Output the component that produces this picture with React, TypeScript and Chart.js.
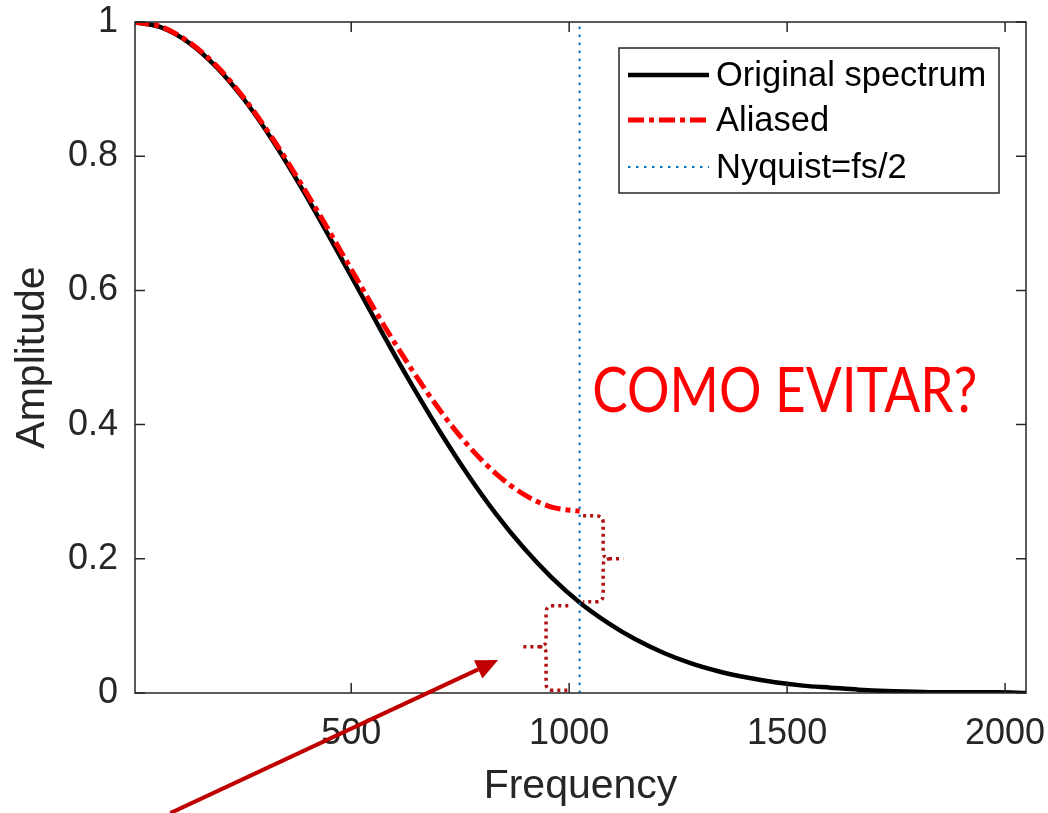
import React, { useEffect, useRef } from 'react';
import { Chart, registerables } from 'chart.js';

Chart.register(...registerables);

// ---- data ----
const frequencies = [
  0, 64, 128, 192, 256, 320, 384, 448, 512, 576, 640, 704, 768, 832, 896, 960, 1024,
  1088, 1152, 1216, 1280, 1344, 1408, 1472, 1536, 1600, 1664, 1728, 1792, 1856, 1920, 1984, 2048,
];
const originalSpectrum = [
  1.0, 0.992, 0.969, 0.932, 0.883, 0.823, 0.755, 0.682, 0.607, 0.531, 0.458, 0.389, 0.325, 0.267, 0.216, 0.172, 0.135,
  0.105, 0.08, 0.06, 0.044, 0.032, 0.023, 0.016, 0.011, 0.008, 0.005, 0.003, 0.002, 0.001, 0.001, 0.001, 0.0,
];
const aliasedFrequencies = [0, 64, 128, 192, 256, 320, 384, 448, 512, 576, 640, 704, 768, 832, 896, 960, 1024];
const aliasedSpectrum = [
  1.0, 0.993, 0.97, 0.934, 0.885, 0.826, 0.76, 0.69, 0.618, 0.547, 0.481, 0.421, 0.369, 0.327, 0.296, 0.277, 0.271,
];
const nyquistFrequency = 1024;
const xTickValues = [500, 1000, 1500, 2000];
const yTickValues = [0, 0.2, 0.4, 0.6, 0.8, 1];
const seriesLabels = ['Original spectrum', 'Aliased', 'Nyquist=fs/2'];
const calloutText = 'COMO EVITAR?';
const xTitle = 'Frequency';
const yTitle = 'Amplitude';

const FONT = "'Liberation Sans', Arial, Helvetica, sans-serif";
const AXIS_COLOR = '#262626';
const BLACK = '#000000';
const RED = '#FF0000';
const BLUE = '#0072BD';
const DARK_RED = '#C00000';
const BRACE_RED = '#B01010';
const RED_DASH = [16, 5, 5, 5];
const BLUE_DOT = [2.5, 5.5];

export default function App() {
  const ref = useRef<HTMLCanvasElement>(null);

  useEffect(() => {
    const canvas = ref.current;
    if (!canvas) return;

    const decor = {
      id: 'matlabDecor',
      afterDatasetsDraw(chart: any) {
        const { ctx, chartArea: a, scales } = chart;
        const xs = scales.x;
        const ys = scales.y;
        const X = (v: number) => xs.getPixelForValue(v);
        const Y = (v: number) => ys.getPixelForValue(v);

        ctx.save();
        // axes box + inward ticks on all four sides
        ctx.strokeStyle = AXIS_COLOR;
        ctx.lineWidth = 1.5;
        ctx.setLineDash([]);
        ctx.strokeRect(a.left, a.top, a.right - a.left, a.bottom - a.top);
        const tl = 10;
        ctx.beginPath();
        xTickValues.forEach((v) => {
          const px = X(v);
          ctx.moveTo(px, a.bottom);
          ctx.lineTo(px, a.bottom - tl);
          ctx.moveTo(px, a.top);
          ctx.lineTo(px, a.top + tl);
        });
        yTickValues.forEach((v) => {
          const py = Y(v);
          ctx.moveTo(a.left, py);
          ctx.lineTo(a.left + tl, py);
          ctx.moveTo(a.right, py);
          ctx.lineTo(a.right - tl, py);
        });
        ctx.stroke();

        // legend
        const lw = 380;
        const lh = 145;
        const lx = a.right - 27 - lw;
        const ly = a.top + 26;
        ctx.fillStyle = '#FFFFFF';
        ctx.fillRect(lx, ly, lw, lh);
        ctx.strokeStyle = AXIS_COLOR;
        ctx.lineWidth = 1.5;
        ctx.strokeRect(lx, ly, lw, lh);
        const rows = [ly + 27, ly + 72, ly + 119];
        const styles = [
          { c: BLACK, w: 4.5, d: [] as number[] },
          { c: RED, w: 5, d: RED_DASH },
          { c: BLUE, w: 2, d: BLUE_DOT },
        ];
        ctx.font = `34.5px ${FONT}`;
        ctx.textBaseline = 'middle';
        ctx.textAlign = 'left';
        seriesLabels.forEach((lab, i) => {
          const s = styles[i];
          ctx.beginPath();
          ctx.strokeStyle = s.c;
          ctx.lineWidth = s.w;
          ctx.setLineDash(s.d);
          ctx.moveTo(lx + 9, rows[i]);
          ctx.lineTo(lx + 90, rows[i]);
          ctx.stroke();
          ctx.setLineDash([]);
          ctx.fillStyle = BLACK;
          ctx.fillText(lab, lx + 97, rows[i] + 1);
        });

        // callout text
        ctx.fillStyle = RED;
        ctx.font = `62px Lato, 'Open Sans', sans-serif`;
        ctx.textBaseline = 'alphabetic';
        ctx.fillText(calloutText, X(1053), Y(0.419), 385);

        // braces (dotted, dark red)
        const brace = (x0: number, x1: number, x2: number, yT: number, yM: number, yB: number) => {
          const px0 = X(x0), px1 = X(x1), px2 = X(x2);
          const pt = Y(yT), pm = Y(yM), pb = Y(yB);
          const s = Math.sign(px1 - px0);
          const r = 7;
          ctx.beginPath();
          ctx.moveTo(px0, pt);
          ctx.lineTo(px1 - s * r, pt);
          ctx.quadraticCurveTo(px1, pt, px1, pt + r);
          ctx.lineTo(px1, pm - r);
          ctx.quadraticCurveTo(px1, pm, px1 + s * r, pm);
          ctx.lineTo(px2, pm);
          ctx.moveTo(px1 + s * r, pm);
          ctx.quadraticCurveTo(px1, pm, px1, pm + r);
          ctx.lineTo(px1, pb - r);
          ctx.quadraticCurveTo(px1, pb, px1 - s * r, pb);
          ctx.lineTo(px0, pb);
          ctx.stroke();
        };
        ctx.strokeStyle = BRACE_RED;
        ctx.lineWidth = 3.5;
        ctx.setLineDash([3, 4]);
        brace(1032, 1078, 1124, 0.264, 0.2, 0.136);
        brace(998, 947, 892, 0.13, 0.069, 0.004);
        ctx.setLineDash([]);

        // arrow
        const ax0 = X(85), ay0 = Y(-0.179);
        const ax1 = X(837), ay1 = Y(0.049);
        const ang = Math.atan2(ay1 - ay0, ax1 - ax0);
        const hl = 22, hw = 10;
        const bx = ax1 - hl * Math.cos(ang);
        const by = ay1 - hl * Math.sin(ang);
        ctx.strokeStyle = DARK_RED;
        ctx.fillStyle = DARK_RED;
        ctx.lineWidth = 4;
        ctx.beginPath();
        ctx.moveTo(ax0, ay0);
        ctx.lineTo(bx, by);
        ctx.stroke();
        ctx.beginPath();
        ctx.moveTo(ax1, ay1);
        ctx.lineTo(bx + hw * Math.sin(ang), by - hw * Math.cos(ang));
        ctx.lineTo(bx - hw * Math.sin(ang), by + hw * Math.cos(ang));
        ctx.closePath();
        ctx.fill();
        ctx.restore();
      },
    };

    const chart = new Chart(canvas, {
      type: 'line',
      data: {
        datasets: [
          {
            label: seriesLabels[0],
            data: frequencies.map((f, i) => ({ x: f, y: originalSpectrum[i] })),
            borderColor: BLACK,
            borderWidth: 4.5,
            pointRadius: 0,
            cubicInterpolationMode: 'monotone',
            fill: false,
            order: 3,
          },
          {
            label: seriesLabels[1],
            data: aliasedFrequencies.map((f, i) => ({ x: f, y: aliasedSpectrum[i] })),
            borderColor: RED,
            borderWidth: 5,
            borderDash: RED_DASH,
            pointRadius: 0,
            cubicInterpolationMode: 'monotone',
            fill: false,
            order: 2,
          },
          {
            label: seriesLabels[2],
            data: [
              { x: nyquistFrequency, y: 0 },
              { x: nyquistFrequency, y: 1 },
            ],
            borderColor: BLUE,
            borderWidth: 2,
            borderDash: BLUE_DOT,
            pointRadius: 0,
            fill: false,
            order: 1,
          },
        ],
      },
      options: {
        responsive: false,
        animation: false,
        devicePixelRatio: 1,
        layout: { padding: { left: 0, top: 22, right: 22, bottom: 0 } },
        elements: { line: { borderCapStyle: 'butt' } },
        plugins: { legend: { display: false }, tooltip: { enabled: false } },
        scales: {
          x: {
            type: 'linear',
            min: 4,
            max: 2048,
            afterBuildTicks: (s: any) => {
              s.ticks = xTickValues.map((v) => ({ value: v }));
            },
            afterFit: (s: any) => {
              s.height = 120;
              s.paddingLeft = 0;
              s.paddingRight = 0;
            },
            grid: { display: false, drawTicks: false },
            border: { display: false },
            ticks: {
              font: { family: FONT, size: 36 },
              color: AXIS_COLOR,
              padding: 19,
              maxRotation: 0,
              autoSkip: false,
              callback: (v: any) => String(v),
            },
            title: {
              display: true,
              text: xTitle,
              font: { family: FONT, size: 41 },
              color: AXIS_COLOR,
              padding: { top: 0, bottom: 2 },
            },
          },
          y: {
            type: 'linear',
            min: 0,
            max: 1,
            afterBuildTicks: (s: any) => {
              s.ticks = yTickValues.map((v) => ({ value: v }));
            },
            afterFit: (s: any) => {
              s.width = 135;
              s.paddingTop = 0;
              s.paddingBottom = 0;
            },
            grid: { display: false, drawTicks: false },
            border: { display: false },
            ticks: {
              font: { family: FONT, size: 36 },
              color: AXIS_COLOR,
              padding: 17,
              callback: (v: any) => String(v),
            },
            title: {
              display: true,
              text: yTitle,
              font: { family: FONT, size: 41 },
              color: AXIS_COLOR,
              padding: { top: 8, bottom: 0 },
            },
          },
        },
      },
      plugins: [decor],
    } as any);

    return () => chart.destroy();
  }, []);

  return (
    <div style={{ position: 'absolute', left: 0, top: 0, width: 1048, height: 813, background: '#fff' }}>
      <canvas ref={ref} width={1048} height={813} style={{ display: 'block', width: 1048, height: 813 }} />
    </div>
  );
}
